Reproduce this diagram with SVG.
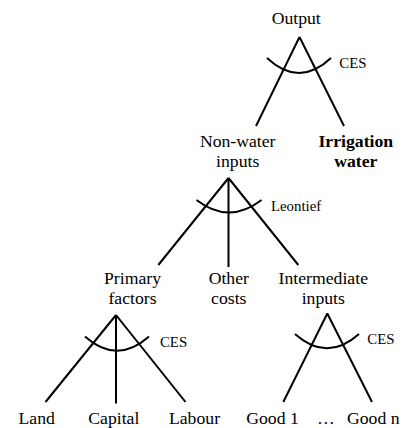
<svg xmlns="http://www.w3.org/2000/svg" width="406" height="428" viewBox="0 0 406 428">
<style>
text{font-family:'Times New Roman','Liberation Serif',Tinos,'DejaVu Serif',serif;fill:#000;text-anchor:middle}
.n{font-size:17.7px}
.s{font-size:14.8px;text-anchor:start}
.b{font-weight:bold}
.e{stroke:#000;stroke-width:2;fill:none}
</style>
<rect width="406" height="428" fill="#fff"/>
<g id="connectors">
<path class="e" d="M299.5 37 L256 126 M299.5 37 L344 126"/>
<path class="e" d="M228.5 178 L158.3 265 M228.5 178 L228.5 267 M228.5 178 L298.3 265"/>
<path class="e" d="M116 315 L45.5 402 M116 315 L116 403.5 M116 315 L185.5 402"/>
<path class="e" d="M327.3 313.5 L283.3 402 M327.3 313.5 L372 402"/>
</g>
<g id="ces-top">
<path class="e" d="M267 58 Q299 88 331 58"/>
<text class="s" x="339.3" y="67.7">CES</text>
</g>
<g id="leontief">
<path class="e" d="M196.5 200 Q229 225 261.5 200"/>
<text class="s" x="271" y="211">Leontief</text>
</g>
<g id="ces-primary">
<path class="e" d="M85 336.5 Q117 365 149 336.5"/>
<text class="s" x="160" y="346.7">CES</text>
</g>
<g id="ces-intermediate">
<path class="e" d="M295 334 Q327 362.6 359 334"/>
<text class="s" x="367.3" y="343.5">CES</text>
</g>
<g id="output"><text class="n" x="296.2" y="24">Output</text></g>
<g id="non-water"><text class="n" x="237.7" y="147.3">Non-water</text><text class="n" x="237.7" y="167.3">inputs</text></g>
<g id="irrigation"><text class="n b" x="355.8" y="147.3">Irrigation</text><text class="n b" x="355.8" y="167.3">water</text></g>
<g id="primary"><text class="n" x="132.5" y="284.3">Primary</text><text class="n" x="132.5" y="304.3">factors</text></g>
<g id="other"><text class="n" x="228.8" y="284.3">Other</text><text class="n" x="228.8" y="304.3">costs</text></g>
<g id="intermediate"><text class="n" x="323.3" y="284.3">Intermediate</text><text class="n" x="323.3" y="304.3">inputs</text></g>
<g id="land"><text class="n" x="36.7" y="424.3">Land</text></g>
<g id="capital"><text class="n" x="113.8" y="424.3">Capital</text></g>
<g id="labour"><text class="n" x="194.5" y="424.3">Labour</text></g>
<g id="good1"><text class="n" x="272.5" y="424.3">Good 1</text></g>
<g id="dots"><text class="n" x="325.8" y="424.3">…</text></g>
<g id="goodn"><text class="n" x="373.3" y="424.3">Good n</text></g>
</svg>
